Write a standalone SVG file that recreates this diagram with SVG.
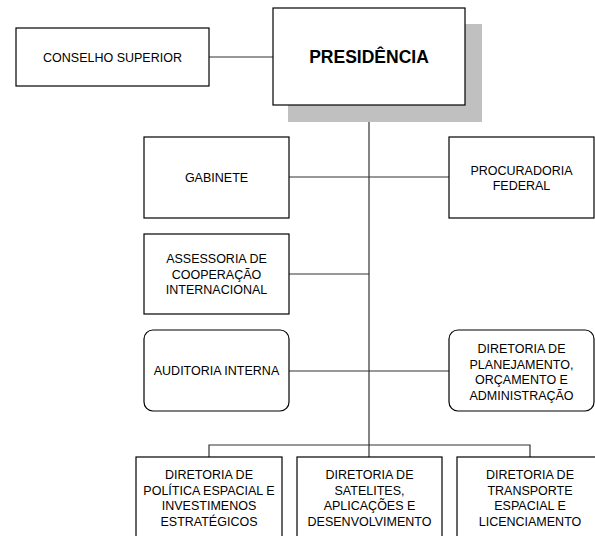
<svg xmlns="http://www.w3.org/2000/svg" width="595" height="536" viewBox="0 0 595 536">
<style>
.box{fill:#fff;stroke:#000;stroke-width:1.2}
.t{font-family:"Liberation Sans",Arial,sans-serif;font-size:12.5px;fill:#000;text-anchor:middle}
.tb{font-family:"Liberation Sans",Arial,sans-serif;font-size:17.5px;font-weight:bold;fill:#000;text-anchor:middle}
.c{stroke:#333;stroke-width:1.2;fill:none}
</style>
<rect width="595" height="536" fill="#fff"/>
<g id="connectors">
<line class="c" x1="209" y1="57" x2="273" y2="57"/>
<line class="c" x1="369" y1="105" x2="369" y2="457"/>
<line class="c" x1="289" y1="177" x2="449" y2="177"/>
<line class="c" x1="289" y1="274" x2="369" y2="274"/>
<line class="c" x1="289" y1="371" x2="449" y2="371"/>
<polyline class="c" points="209,457 209,445 530,445 530,457"/>
</g>
<g id="presidencia">
<rect x="288" y="24" width="194" height="98" fill="#c0c0c0"/>
<rect class="box" x="273" y="8" width="192" height="97"/>
<text class="tb" x="369" y="63">PRESIDÊNCIA</text>
</g>
<g id="conselho">
<rect class="box" x="16" y="28" width="193" height="58"/>
<text class="t" x="112.5" y="61.5">CONSELHO SUPERIOR</text>
</g>
<g id="gabinete">
<rect class="box" x="144" y="137" width="145" height="81"/>
<text class="t" x="216.5" y="182">GABINETE</text>
</g>
<g id="procuradoria">
<rect class="box" x="449" y="137" width="145" height="81"/>
<text class="t" x="521.5" y="175">PROCURADORIA</text>
<text class="t" x="521.5" y="190">FEDERAL</text>
</g>
<g id="assessoria">
<rect class="box" x="144" y="234" width="145" height="80"/>
<text class="t" x="216.5" y="263">ASSESSORIA DE</text>
<text class="t" x="216.5" y="278.6">COOPERAÇÃO</text>
<text class="t" x="216.5" y="294.2">INTERNACIONAL</text>
</g>
<g id="auditoria">
<rect class="box" x="144" y="330" width="145" height="81" rx="9"/>
<text class="t" x="216.5" y="375">AUDITORIA INTERNA</text>
</g>
<g id="planejamento">
<rect class="box" x="449" y="330" width="145" height="81" rx="9"/>
<text class="t" x="521.5" y="353">DIRETORIA DE</text>
<text class="t" x="521.5" y="368.6">PLANEJAMENTO,</text>
<text class="t" x="521.5" y="384.2">ORÇAMENTO E</text>
<text class="t" x="521.5" y="399.8">ADMINISTRAÇÃO</text>
</g>
<g id="politica">
<rect class="box" x="136" y="457" width="146" height="90"/>
<text class="t" x="209" y="479">DIRETORIA DE</text>
<text class="t" x="209" y="494.7">POLÍTICA ESPACIAL E</text>
<text class="t" x="209" y="510.4">INVESTIMENOS</text>
<text class="t" x="209" y="526.1">ESTRATÉGICOS</text>
</g>
<g id="satelites">
<rect class="box" x="297" y="457" width="145" height="90"/>
<text class="t" x="369.5" y="479">DIRETORIA DE</text>
<text class="t" x="369.5" y="494.7">SATELITES,</text>
<text class="t" x="369.5" y="510.4">APLICAÇÕES E</text>
<text class="t" x="369.5" y="526.1">DESENVOLVIMENTO</text>
</g>
<g id="transporte">
<rect class="box" x="457" y="457" width="146" height="90"/>
<text class="t" x="530" y="479">DIRETORIA DE</text>
<text class="t" x="530" y="494.7">TRANSPORTE</text>
<text class="t" x="530" y="510.4">ESPACIAL E</text>
<text class="t" x="530" y="526.1">LICENCIAMENTO</text>
</g>
</svg>
